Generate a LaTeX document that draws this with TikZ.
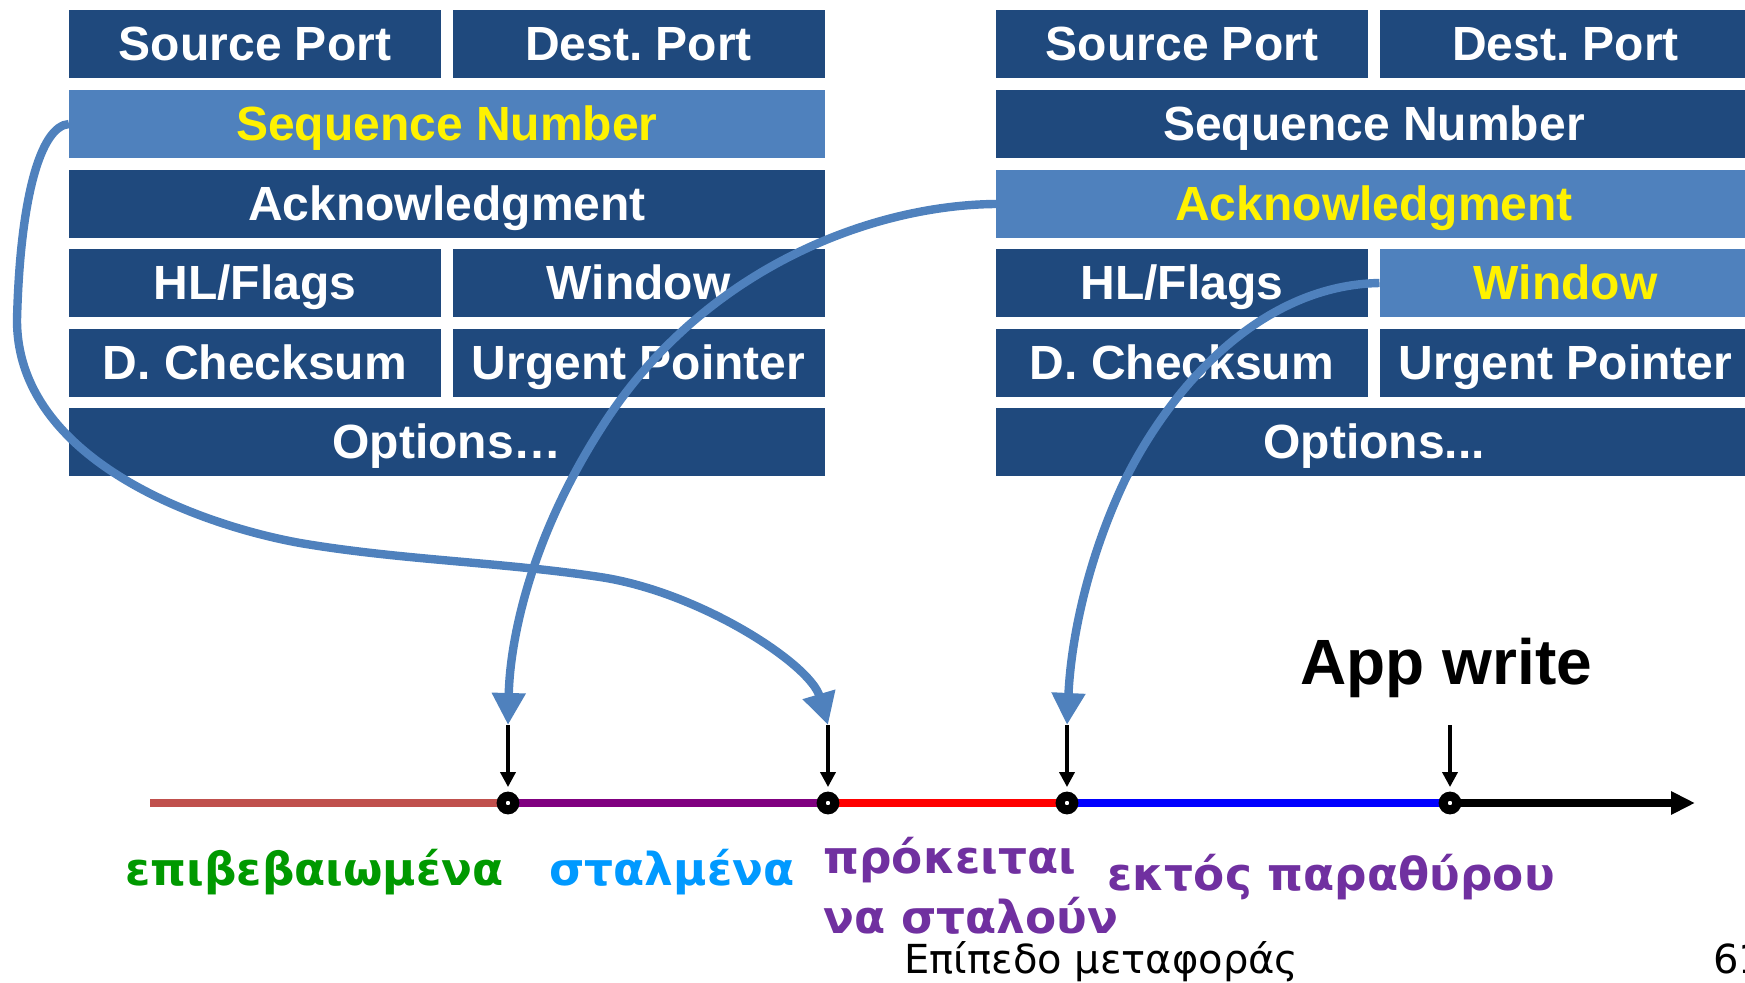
\documentclass[tikz,border=0pt]{standalone}
\usepackage{fontspec}
\setmainfont{Liberation Sans}
\newfontfamily\lblfont{DejaVu Sans}
\usetikzlibrary{arrows.meta}
\frenchspacing

\definecolor{hdrdark}{HTML}{1F497D}
\definecolor{hdrlight}{HTML}{4F81BD}
\definecolor{seg1}{HTML}{C0504D}
\definecolor{seg2}{HTML}{800080}
\definecolor{lblgreen}{HTML}{009900}
\definecolor{lblblue}{HTML}{0099FF}
\definecolor{lblpurple}{HTML}{7030A0}

\newcommand\fieldfont{\fontsize{24}{28}\selectfont\bfseries}

\tikzset{
  field/.style={fill=hdrdark, text=white, font=\fieldfont, inner sep=0pt, outer sep=0pt,
    minimum height=34pt, text height=17pt, text depth=0pt},
  half/.style={field, minimum width=186pt},
  whole/.style={field, minimum width=378pt},
  hot/.style={fill=hdrlight, text=yellow},
  seg/.style={line width=4.3pt},
  dot/.style={circle, draw=black, fill=white, line width=4.5pt, inner sep=0pt, minimum size=6.85pt},
  tick/.style={draw=black, line width=1.8pt, -{Triangle[length=7.5pt,width=7.5pt]}, shorten >=2.3pt},
  link/.style={draw=hdrlight, line width=4.2pt, -{Triangle[length=16pt,width=16pt]}},
  lbl/.style={font=\lblfont\bfseries\fontsize{22.7}{27}\selectfont, anchor=base west, inner sep=0pt},
  foot/.style={font=\lblfont\fontsize{20}{24}\selectfont, anchor=base west, inner sep=0pt},
}

\begin{document}
\begin{tikzpicture}[x=0.5pt,y=-0.5pt]
\useasboundingbox (0,0) rectangle (1745,983);

% ---- TCP header, left copy ----
\node[half] (srcL) at (255,44) {Source Port};
\node[half] (dstL) at (638.5,44) {Dest. Port};
\node[whole,hot] (seqL) at (447,124) {Sequence Number};
\node[whole] (ackL) at (447,204) {Acknowledgment};
\node[half] (flgL) at (255,283) {HL/Flags};
\node[half] (winL) at (638.5,283) {Window};
\node[half] (cksL) at (255,363) {D. Checksum};
\node[half] (urgL) at (638.5,363) {Urgent Pointer};
\node[whole] (optL) at (447,442) {Options…};

% ---- TCP header, right copy ----
\node[half] (srcR) at (1182,44) {Source Port};
\node[half] (dstR) at (1565.5,44) {Dest. Port};
\node[whole] (seqR) at (1374,124) {Sequence Number};
\node[whole,hot] (ackR) at (1374,204) {Acknowledgment};
\node[half] (flgR) at (1182,283) {HL/Flags};
\node[half,hot] (winR) at (1565.5,283) {Window};
\node[half] (cksR) at (1182,363) {D. Checksum};
\node[half] (urgR) at (1565.5,363) {Urgent Pointer};
\node[whole] (optR) at (1374,442) {Options...};

% ---- sequence-space line ----
\coordinate (t0) at (150,803);
\coordinate (p1) at (508,803);
\coordinate (p2) at (828,803);
\coordinate (p3) at (1067,803);
\coordinate (p4) at (1450,803);
\coordinate (tend) at (1695,803);

\draw[seg, seg1] (t0) -- (p1);
\draw[seg, seg2] (p1) -- (p2);
\draw[seg, red] (p2) -- (p3);
\draw[seg, blue] (p3) -- (p4);
\draw[seg, black, -{Triangle[length=12pt,width=11pt]}] (p4) -- (tend);

\node[dot] (d1) at (p1) {};
\node[dot] (d2) at (p2) {};
\node[dot] (d3) at (p3) {};
\node[dot] (d4) at (p4) {};

\coordinate (a1) at (508,725);
\coordinate (a2) at (828,725);
\coordinate (a3) at (1067,725);
\coordinate (a4) at (1450,725);

\draw[tick] (a1) -- (d1);
\draw[tick] (a2) -- (d2);
\draw[tick] (a3) -- (d3);
\draw[tick] (a4) -- (d4);

% ---- labels ----
\node[lbl, text=lblgreen] (l1) at (125,885) {επιβεβαιωμένα};
\node[lbl, text=lblblue] (l2) at (549,885) {σταλμένα};
\node[lbl, text=lblpurple] (l3a) at (823,873) {πρόκειται};
\node[lbl, text=lblpurple] (l3b) at (823,933) {να σταλούν};
\node[lbl, text=lblpurple] (l4) at (1107,890) {εκτός παραθύρου};
\node[font=\fontsize{32}{38}\selectfont\bfseries, anchor=base west, inner sep=0pt] (app) at (1300,684) {App write};

\node[foot] (ftr) at (904,973) {Επίπεδο μεταφοράς};
\node[foot] (pg) at (1713,973) {61};

% ---- header fields pointing into the sequence space ----
\draw[link] (seqL.west) .. controls (40,126) and (20,200) .. (17,320)
  .. controls (17,460) and (200,525) .. (300,543)
  .. controls (400,560) and (500,562) .. (600,577)
  .. controls (700,592) and (810,664) .. (a2);
\draw[link] (ackR.west) .. controls (870,205) and (700,270) .. (600,430)
  .. controls (530,540) and (510,640) .. (a1);
\draw[link] (winR.west) .. controls (1265,285) and (1175,380) .. (1125,480)
  .. controls (1087,560) and (1071,640) .. (a3);
\end{tikzpicture}
\end{document}
